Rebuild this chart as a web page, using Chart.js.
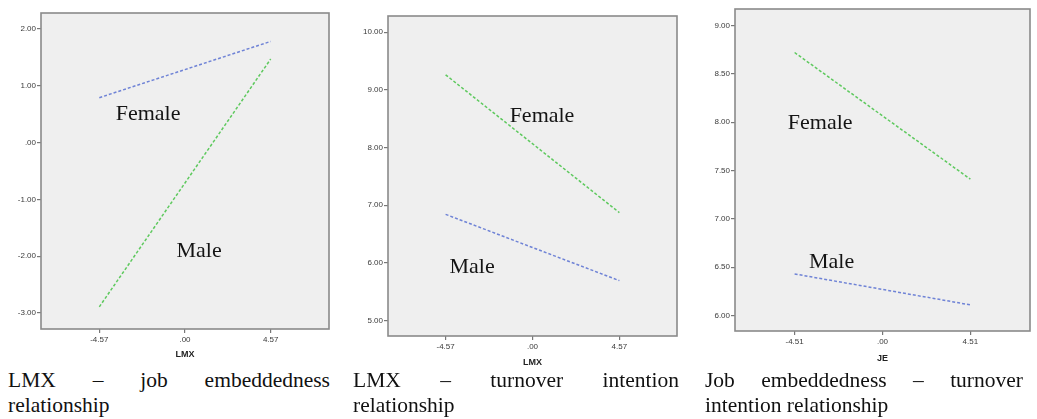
<!DOCTYPE html>
<html>
<head>
<meta charset="utf-8">
<script src="https://cdn.jsdelivr.net/npm/chart.js@4/dist/chart.umd.min.js"></script>
<style>
  body { margin: 0; background: #fff; width: 1037px; height: 419px; position: relative; overflow: hidden; }
  canvas { position: absolute; top: 0; }
  .cap { position: absolute; font-family: "Liberation Serif", "Times New Roman", serif; font-size: 21.5px; line-height: 25px; color: #111; }
  .cap .l1 { text-align: justify; text-align-last: justify; }
</style>
</head>
<body>
<canvas id="c1" width="345" height="362" style="left:0px"></canvas>
<canvas id="c2" width="345" height="370" style="left:345px"></canvas>
<canvas id="c3" width="347" height="366" style="left:690px"></canvas>

<div class="cap" style="left:8px; top:368px; width:322px;">
  <div class="l1">LMX – job embeddedness</div>
  <div>relationship</div>
</div>
<div class="cap" style="left:353px; top:368px; width:326px;">
  <div class="l1">LMX – turnover intention</div>
  <div>relationship</div>
</div>
<div class="cap" style="left:705px; top:368px; width:318px;">
  <div class="l1">Job embeddedness – turnover</div>
  <div>intention relationship</div>
</div>

<script>
// predictor values (low / high)
const lmxX = [-4.57, 4.57];
const jeX = [-4.51, 4.51];

// panel 1: LMX -> job embeddedness
const p1Female = [0.79, 1.78];
const p1Male = [-2.89, 1.47];
const p1YTicks = [-3, -2, -1, 0, 1, 2];

// panel 2: LMX -> turnover intention
const p2Female = [9.26, 6.87];
const p2Male = [6.84, 5.69];
const p2YTicks = [5, 6, 7, 8, 9, 10];

// panel 3: JE -> turnover intention
const p3Female = [8.72, 7.41];
const p3Male = [6.43, 6.11];
const p3YTicks = [6, 6.5, 7, 7.5, 8, 8.5, 9];

// in-plot group labels: [text, x, y(baseline)]
const p1Labels = [['Female', -1.97, 0.39], ['Male', 0.75, -2.02]];
const p2Labels = [['Female', 0.50, 8.45], ['Male', -3.18, 5.83]];
const p3Labels = [['Female', -3.20, 7.93], ['Male', -2.61, 6.49]];

const BLUE = '#6f83d6';
const GREEN = '#5ec95e';

function fmt(v) {
  if (v === 0) return '.00';
  return v.toFixed(2);
}

function pts(xs, ys) {
  return xs.map((x, i) => ({ x: x, y: ys[i] }));
}

const boxPlugin = {
  id: 'spssBox',
  beforeDatasetsDraw(chart) {
    const a = chart.chartArea, ctx = chart.ctx;
    ctx.save();
    ctx.fillStyle = '#efefef';
    ctx.fillRect(a.left, a.top, a.right - a.left, a.bottom - a.top);
    ctx.restore();
  },
  afterDatasetsDraw(chart, args, opts) {
    const a = chart.chartArea, ctx = chart.ctx;
    ctx.save();
    ctx.strokeStyle = '#8a8a8a';
    ctx.lineWidth = 1.6;
    ctx.strokeRect(a.left, a.top, a.right - a.left, a.bottom - a.top);
    // group labels
    ctx.fillStyle = '#141414';
    ctx.font = '22px "Liberation Serif", "Times New Roman", serif';
    ctx.textAlign = 'center';
    ctx.textBaseline = 'alphabetic';
    (opts.labels || []).forEach(l => {
      ctx.fillText(l[0], chart.scales.x.getPixelForValue(l[1]), chart.scales.y.getPixelForValue(l[2]));
    });
    ctx.restore();
  }
};

function makeChart(id, o) {
  return new Chart(document.getElementById(id), {
    type: 'line',
    data: {
      datasets: [
        { label: 'Female', data: pts(o.xs, o.female), borderColor: o.femaleColor },
        { label: 'Male', data: pts(o.xs, o.male), borderColor: o.maleColor }
      ]
    },
    options: {
      responsive: false,
      animation: false,
      layout: { padding: { top: o.padTop, right: o.padRight, left: 0, bottom: 0 } },
      elements: {
        line: { borderWidth: 1.5, borderDash: [3, 2], tension: 0, fill: false },
        point: { radius: 0 }
      },
      plugins: {
        legend: { display: false },
        tooltip: { enabled: false },
        spssBox: { labels: o.labels }
      },
      scales: {
        x: {
          type: 'linear',
          min: -o.xRange, max: o.xRange,
          afterBuildTicks: s => { s.ticks = [o.xs[0], 0, o.xs[1]].map(v => ({ value: v })); },
          afterFit: s => { s.height = o.xAxisH; },
          grid: { drawOnChartArea: false, drawTicks: true, tickLength: 4, color: '#777', lineWidth: 1.2 },
          border: { display: false },
          ticks: { callback: v => fmt(v), maxRotation: 0, padding: 2, color: '#3a3a3a',
                   font: { family: '"Liberation Sans", Arial, sans-serif', size: 8 } },
          title: { display: true, text: o.xTitle, color: '#222', padding: { top: 0, bottom: 2 },
                   font: { family: '"Liberation Sans", Arial, sans-serif', size: 9, weight: 'bold' } }
        },
        y: {
          min: o.yMin, max: o.yMax,
          afterBuildTicks: s => { s.ticks = o.yTicks.map(v => ({ value: v })); },
          afterFit: s => { s.width = o.yAxisW; },
          grid: { drawOnChartArea: false, drawTicks: true, tickLength: 4, color: '#777', lineWidth: 1.2 },
          border: { display: false },
          ticks: { callback: v => fmt(v), padding: 1, color: '#3a3a3a',
                   font: { family: '"Liberation Sans", Arial, sans-serif', size: 8 } }
        }
      }
    },
    plugins: [boxPlugin]
  });
}

makeChart('c1', {
  xs: lmxX, female: p1Female, male: p1Male, femaleColor: BLUE, maleColor: GREEN,
  yTicks: p1YTicks, yMin: -3.28, yMax: 2.28, xRange: 7.68, labels: p1Labels, xTitle: 'LMX',
  padTop: 13, padRight: 16, yAxisW: 41, xAxisH: 33
});
makeChart('c2', {
  xs: lmxX, female: p2Female, male: p2Male, femaleColor: GREEN, maleColor: BLUE,
  yTicks: p2YTicks, yMin: 4.73, yMax: 10.28, xRange: 7.6, labels: p2Labels, xTitle: 'LMX',
  padTop: 16, padRight: 13, yAxisW: 43, xAxisH: 34
});
makeChart('c3', {
  xs: jeX, female: p3Female, male: p3Male, femaleColor: GREEN, maleColor: BLUE,
  yTicks: p3YTicks, yMin: 5.84, yMax: 9.17, xRange: 7.57, labels: p3Labels, xTitle: 'JE',
  padTop: 9, padRight: 7, yAxisW: 45, xAxisH: 35
});
</script>
</body>
</html>
